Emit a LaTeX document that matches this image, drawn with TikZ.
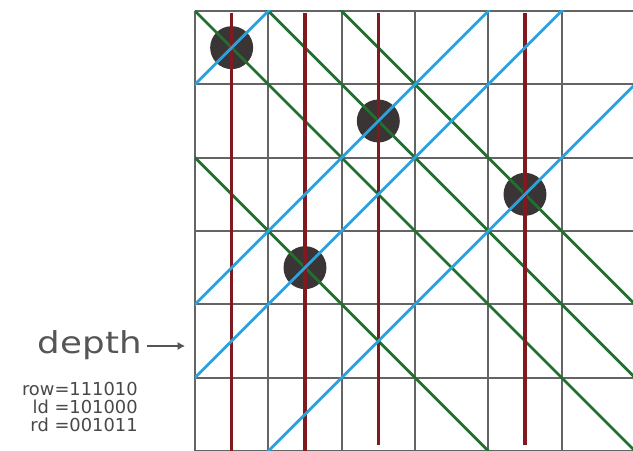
\documentclass[tikz,border=0pt]{standalone}
\usepackage{fontspec}
\setmainfont{DejaVu Sans}
\newfontfamily\depthfont[FakeStretch=1.18]{DejaVu Sans}
\usetikzlibrary{arrows.meta}
\definecolor{boardgray}{RGB}{100,100,100}
\definecolor{colred}{RGB}{128,26,32}
\definecolor{rdgreen}{RGB}{32,112,48}
\definecolor{ldblue}{RGB}{44,162,220}
\definecolor{queenfill}{RGB}{58,52,52}
\definecolor{labelgray}{RGB}{85,85,85}

\begin{document}
\begin{tikzpicture}[
    x=1.4cm, y=1.4cm,
    board/.style={draw=boardgray, line width=1pt, step=1.4cm},
    colline/.style={draw=colred, line width=1.8pt},
    rdline/.style={draw=rdgreen, line width=1.5pt},
    ldline/.style={draw=ldblue, line width=1.5pt},
    queen/.style={circle, fill=queenfill, minimum size=0.82cm, inner sep=0pt},
    depthlabel/.style={font=\depthfont\fontsize{16.4}{18}\selectfont, text=labelgray, inner sep=0pt},
    bits/.style={font=\fontsize{9.7}{12}\selectfont, text=labelgray!85!black, inner sep=0pt, anchor=base east},
    pointer/.style={-{Latex[length=4pt,width=4.5pt]}, draw=labelgray, line width=0.9pt}
]
\useasboundingbox (-2.659,-6.0) rectangle (5.973,0.150);
\draw[board] (0,-6) grid (6,0);
\foreach \c/\r in {0/0,2/1,4/2,1/3}
  \node[queen] (q\r) at (\c+0.5,-\r-0.5) {};
\begin{scope}
\clip (0,0) rectangle (6,-6);
\foreach \c/\r in {0/0,2/1,4/2,1/3}
  \draw[rdline] (\c+0.5-6,-\r-0.5+6) -- (\c+0.5+6,-\r-0.5-6);
\foreach \c/\e in {0/-6,1/-6,2/-5.92,4/-5.92}
  \draw[colline] (\c+0.5,-0.03) -- (\c+0.5,\e);
\foreach \c/\r in {0/0,2/1,4/2,1/3}
  \draw[ldline] (\c+0.5-6,-\r-0.5-6) -- (\c+0.5+6,-\r-0.5+6);
\end{scope}
\node[depthlabel, anchor=base east] (depth) at (-0.723,-4.664) {depth};
\coordinate (depthtip) at (-0.136,-4.568);
\draw[pointer, shorten <=3pt] (depth.east |- depthtip) -- (depthtip);
\node[bits] (rowbits) at (-0.777,-5.237) {row=111010};
\node[bits] (ldbits) at (-0.777,-5.482) {ld =101000};
\node[bits] (rdbits) at (-0.777,-5.741) {rd =001011};
\end{tikzpicture}
\end{document}
